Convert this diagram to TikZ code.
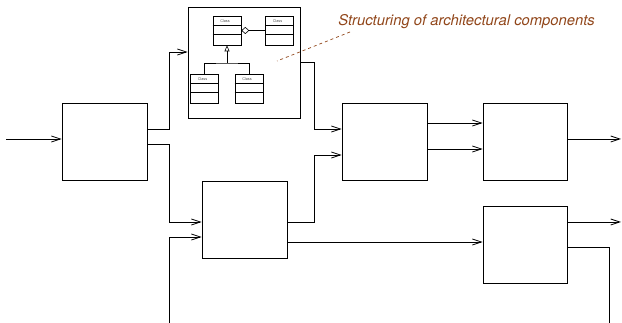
\documentclass[tikz,border=0pt]{standalone}
\usepackage{fontspec}
\setmainfont{TeX Gyre Heros}
\usetikzlibrary{arrows.meta,positioning,calc}
\definecolor{notebrown}{RGB}{145,70,26}

\begin{document}
\begin{tikzpicture}[x=1pt,y=-1pt,line width=0.8pt,
    blk/.style={draw,minimum width=85,minimum height=77,inner sep=0},
    cls/.style={draw,line width=0.6pt,minimum width=28,minimum height=29,inner sep=0},
    flow/.style={-{Straight Barb[length=9pt,width=6pt]}}]
  \useasboundingbox (0,0) rectangle (622,323);
  \node[blk] (a) at (104.5,141.5) {};
  \node[blk] (c) at (244.5,219.5) {};
  \node[blk] (d) at (384.5,141.5) {};
  \node[blk,minimum width=84] (e) at (525,141.5) {};
  \node[blk,minimum width=84] (f) at (525,244.5) {};
  \node[draw,minimum width=112,minimum height=111,inner sep=0] (arch) at (244,62.5) {};
  \begin{scope}[every node/.style={cls}]
    \node (k1) at (227,30.5) {};
    \node (k2) at (279.5,30.5) {};
    \node (k3) at (204.5,88.5) {};
    \node (k4) at (249,88.5) {};
  \end{scope}
  \foreach \k in {k1,k2,k3,k4}
    {\draw[line width=0.6pt] ($(\k.north west)+(0,10)$) -- ($(\k.north east)+(0,10)$);
     \draw[line width=0.6pt] ($(\k.north west)+(0,19)$) -- ($(\k.north east)+(0,19)$);
     \node[text=black!65,font=\fontsize{3.8}{4}\selectfont] at ($(\k.north)+(-2,5)$) {Class};}
  \draw[line width=0.6pt,{Diamond[open,length=8pt,width=7pt]}-] (k1.east) -- (k2.west);
  \coordinate (j) at (k1.south |- 0,63);
  \draw[line width=0.6pt,-{Triangle[open,length=6pt,width=5pt]}] (j) -- (k1.south);
  \draw[line width=0.6pt] (k3.north) |- (j) -| (k4.north);
  \coordinate (in) at (6,139);
  \coordinate (fb) at (169,323);
  \coordinate (oute) at (621,139);
  \coordinate (outf) at (621,222);
  \coordinate (downf) at (609,323);
  \draw[flow] (in) -- (in -| a.west);
  \draw[flow] ([yshift=12.5pt]a.east) -- ++(22,0) |- ([yshift=10.5pt]arch.west);
  \draw[flow] ([yshift=-2.5pt]a.east) -- ++(22,0) |- ([yshift=-2.5pt]c.west);
  \draw[flow] (fb) |- ([yshift=-17.5pt]c.west);
  \draw[flow] ([yshift=-2.5pt]c.east) -- ++(27,0) |- ([yshift=-13.5pt]d.west);
  \draw[flow] (arch.east) -- ++(14,0) |- ([yshift=12.5pt]d.west);
  \draw[flow] ([yshift=18.5pt]d.east) -- ([yshift=18.5pt]e.west);
  \draw[flow] ([yshift=-7.5pt]d.east) -- ([yshift=-7.5pt]e.west);
  \draw[flow] (e.east |- oute) -- (oute);
  \draw[flow] ([yshift=-22.5pt]c.east) -- ([yshift=2.5pt]f.west);
  \draw[flow] (f.east |- outf) -- (outf);
  \draw ([yshift=-2.5pt]f.east) -| (downf);
  \node[text=notebrown,font=\fontsize{14.8}{16}\selectfont\itshape,inner sep=0,anchor=base west] (note) at (338,26) {Structuring of architectural components};
  \coordinate (tip) at (277,61);
  \draw[notebrown,line width=0.7pt,dash pattern=on 3pt off 3pt] (350,32) -- (tip);
\end{tikzpicture}
\end{document}
